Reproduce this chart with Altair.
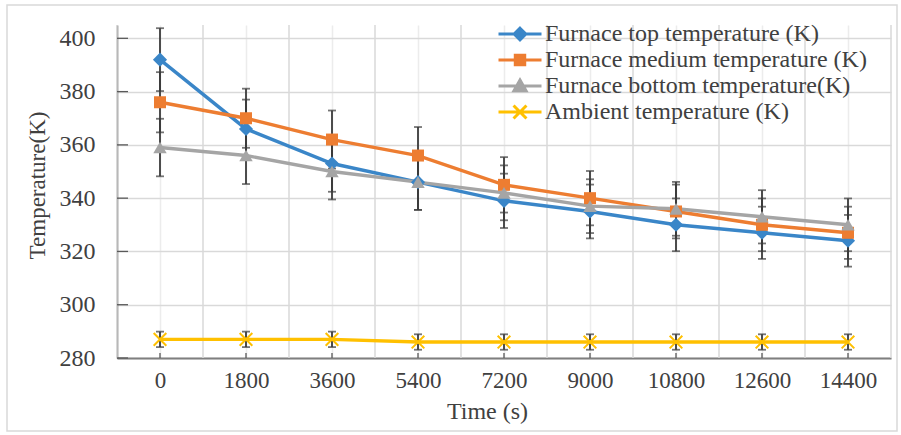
import altair as alt
import pandas as pd

times = [0, 1800, 3600, 5400, 7200, 9000, 10800, 12600, 14400]
series_names = [
    "Furnace top temperature (K)",
    "Furnace medium temperature (K)",
    "Furnace bottom temperature(K)",
    "Ambient temperature (K)",
]
top_temp = [392, 366, 353, 346, 339, 335, 330, 327, 324]
medium_temp = [376, 370, 362, 356, 345, 340, 335, 330, 327]
bottom_temp = [359, 356, 350, 346, 342, 337, 336, 333, 330]
ambient_temp = [287, 287, 287, 286, 286, 286, 286, 286, 286]
top_err = [11.8, 11.0, 10.6, 10.4, 10.2, 10.1, 9.9, 9.8, 9.7]
medium_err = [11.3, 11.1, 10.9, 10.7, 10.4, 10.2, 10.1, 9.9, 9.8]
bottom_err = [10.8, 10.7, 10.5, 10.4, 10.3, 10.1, 10.1, 10.0, 9.9]
ambient_err = [2.9, 2.9, 2.9, 2.9, 2.9, 2.9, 2.9, 2.9, 2.9]
y_ticks = [280, 300, 320, 340, 360, 380, 400]

colors = ["#3A86C8", "#ED7D31", "#A5A5A5", "#FFC000"]
FONT = "Liberation Serif"
TXT = "#404040"
W, H = 774, 333

rows = []
for name, vals, errs in zip(series_names,
                            [top_temp, medium_temp, bottom_temp, ambient_temp],
                            [top_err, medium_err, bottom_err, ambient_err]):
    for t, v, e in zip(times, vals, errs):
        rows.append({"time": t, "series": name, "value": v, "err": e})
df = pd.DataFrame(rows)

half = (times[1] - times[0]) / 2
bounds = pd.DataFrame({"time": [t - half for t in times] + [times[-1] + half]})
yt = pd.DataFrame({"value": y_ticks})
xt = pd.DataFrame({"time": times})

x_scale = alt.Scale(domain=[times[0] - half, times[-1] + half], nice=False, zero=False)
y_scale = alt.Scale(domain=[280, 405], nice=False, zero=False)
color_scale = alt.Scale(domain=series_names, range=colors)

x_axis = alt.Axis(
    values=times, format="d", title="Time (s)", grid=True, gridColor="#ececec", gridWidth=1.5,
    ticks=False, tickSize=0, domainColor="#7f7f7f", domainWidth=2,
    labelFont=FONT, labelFontSize=23, labelColor=TXT, labelPadding=11,
    titleFont=FONT, titleFontSize=24, titleFontWeight="normal", titleColor=TXT,
    titleX=370, titleY=60, titleBaseline="alphabetic", labelFlush=False,
)
y_axis = alt.Axis(
    values=y_ticks, title="Temperature(K)", grid=True, gridColor="#d9d9d9", gridWidth=1.5,
    ticks=False, tickSize=0, domainColor="#595959", domainWidth=1.5,
    labelFont=FONT, labelFontSize=24, labelColor=TXT, labelPadding=22,
    titleFont=FONT, titleFontSize=23, titleFontWeight="normal", titleColor=TXT,
    titleX=-73, titleY=160, titleBaseline="alphabetic", titleAlign="center", titleAngle=270,
)


def X(field):
    return alt.X(field, scale=x_scale, axis=x_axis)


def Y(field):
    return alt.Y(field, scale=y_scale, axis=y_axis)


frame = alt.Chart(pd.DataFrame({"a": [0]})).mark_rect(
    fillOpacity=0, stroke="#d9d9d9", strokeWidth=1.5
).encode(x=alt.value(-110), x2=alt.value(780), y=alt.value(-20), y2=alt.value(406))

base_axes = alt.Chart(df).mark_point(opacity=0).encode(x=X("time:Q"), y=Y("value:Q"))

grid_v = alt.Chart(bounds).mark_rule(color="#d9d9d9", strokeWidth=1.5).encode(
    x=X("time:Q"), y=alt.value(0), y2=alt.value(H)
)

yticks = alt.Chart(yt).mark_rule(color="#595959", strokeWidth=1.3).encode(
    y=Y("value:Q"), x=alt.value(0), x2=alt.value(11)
)
xticks = alt.Chart(xt).mark_rule(color="#595959", strokeWidth=1.3).encode(
    x=X("time:Q"), y=alt.value(H - 5), y2=alt.value(H)
)

errbars = alt.Chart(df).mark_errorbar(ticks=True, size=8, thickness=1.8, color="#3a3a3a").encode(
    x=X("time:Q"), y=Y("value:Q"), yError="err:Q",
)

line_layers = []
for name, col in zip(series_names, colors):
    line_layers.append(
        alt.Chart(df).transform_filter(alt.datum.series == name).mark_line(
            strokeWidth=3.4, color=col
        ).encode(x=X("time:Q"), y=Y("value:Q"), order=alt.Order("time:Q"))
    )

marker_specs = [("diamond", 200), ("square", 144), ("triangle-up", 180)]
point_layers = []
for name, col, (shp, sz) in zip(series_names[:3], colors[:3], marker_specs):
    point_layers.append(
        alt.Chart(df).transform_filter(alt.datum.series == name).mark_point(
            shape=shp, size=sz, filled=True, color=col, opacity=1
        ).encode(x=X("time:Q"), y=Y("value:Q"))
    )
point_layers.append(
    alt.Chart(df).transform_filter(alt.datum.series == series_names[3]).mark_point(
        shape="M-1,-1L1,1M1,-1L-1,1", size=160, strokeWidth=2, color=colors[3], filled=False, opacity=1
    ).encode(x=X("time:Q"), y=Y("value:Q"))
)

legend_paths = [
    "M-1,0H1M0,-0.27L0.27,0L0,0.27L-0.27,0ZM0,-0.13L0.13,0L0,0.13L-0.13,0Z",
    "M-1,0H1M-0.22,-0.22H0.22V0.22H-0.22ZM-0.1,-0.1H0.1V0.1H-0.1Z",
    "M-1,0H1M0,-0.28L0.28,0.22H-0.28ZM0,-0.12L0.12,0.1H-0.12Z",
    "M-1,0H1M-0.3,-0.3L0.3,0.3M0.3,-0.3L-0.3,0.3",
]
leg = alt.Legend(
    title=None, orient="none", legendX=380, legendY=-4, symbolSize=1849, symbolStrokeWidth=3,
    symbolOpacity=1, labelFont=FONT, labelFontSize=24, labelColor=TXT, labelOffset=2,
    clipHeight=26, rowPadding=0, padding=0, labelLimit=0,
)
legend_layer = alt.Chart(df).transform_filter("false").mark_point(
    filled=False, opacity=1, strokeWidth=3
).encode(
    x=X("time:Q"), y=Y("value:Q"),
    color=alt.Color("series:N", scale=color_scale, legend=leg),
    shape=alt.Shape("series:N", scale=alt.Scale(domain=series_names, range=legend_paths), legend=leg),
)

chart = alt.layer(
    frame, base_axes, grid_v, yticks, xticks, errbars, *line_layers, *point_layers, legend_layer
).properties(
    width=W, height=H,
    autosize=alt.AutoSizeParams(type="none"),
    padding={"left": 117, "top": 25, "right": 10, "bottom": 77},
    background="white",
).configure_view(stroke=None)

chart.save("out.html", embed_options={"renderer": "svg", "actions": False})
